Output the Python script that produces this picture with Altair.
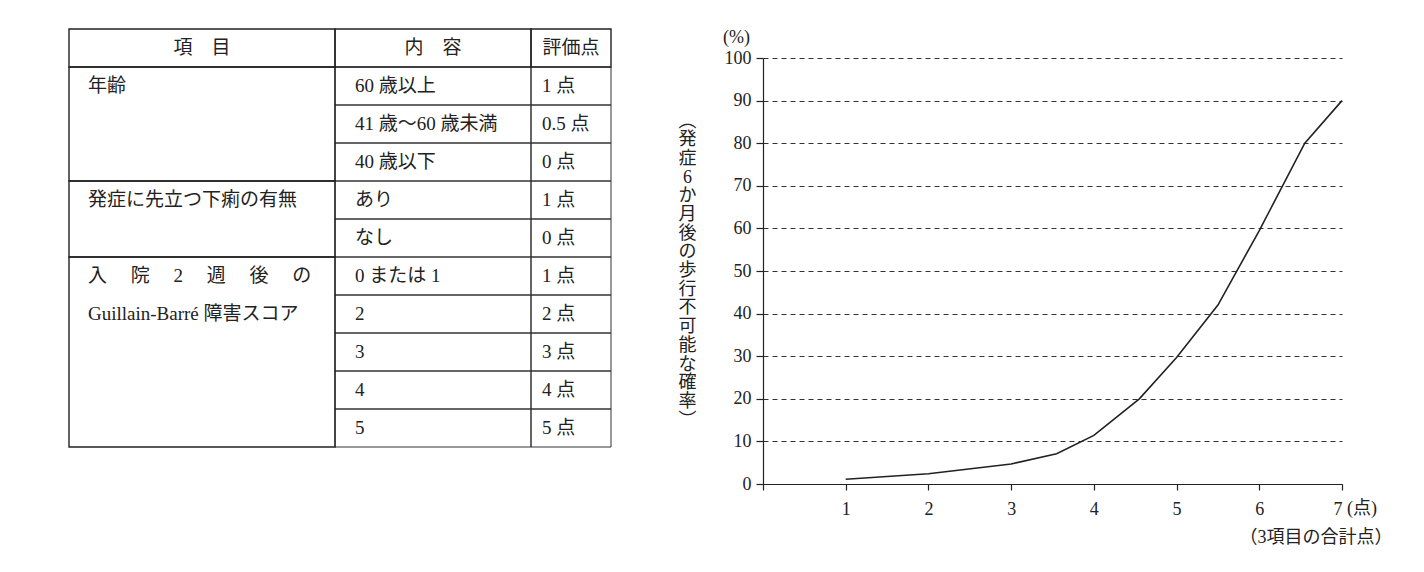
import altair as alt
import pandas as pd

# ---------------- table content ----------------
HEADERS = ["項　目", "内　容", "評価点"]
ITEM_LINES = [
    ["年齢"],
    ["発症に先立つ下痢の有無"],
    ["入　 院　 2　 週　 後　 の", "Guillain-Barré 障害スコア"],
]
CONTENTS = [
    ["60 歳以上", "41 歳～60 歳未満", "40 歳以下"],
    ["あり", "なし"],
    ["0 または 1", "2", "3", "4", "5"],
]
POINTS = [
    ["1 点", "0.5 点", "0 点"],
    ["1 点", "0 点"],
    ["1 点", "2 点", "3 点", "4 点", "5 点"],
]

# ---------------- curve data ----------------
TOTAL_SCORE = [1, 2, 3, 3.55, 4, 4.55, 5, 5.5, 6, 6.55, 7]
PROB = [1.1, 2.4, 4.7, 7.1, 11.4, 20, 29.7, 42, 59.5, 80, 90]
X_TICKS = [0, 1, 2, 3, 4, 5, 6, 7]
Y_TICKS = [0, 10, 20, 30, 40, 50, 60, 70, 80, 90, 100]
Y_TITLE = "︵発症6か月後の歩行不可能な確率︶"
X_TITLE = "（3項目の合計点）"
Y_UNIT = "(%)"
X_UNIT = "(点)"

# ---------------- layout / style ----------------
FONT = "Liberation Serif, Noto Sans CJK JP"
INK = "#222222"
COL_EDGES = [0, 266, 462, 542]
COL_PAD = [19, 20, 11]
TABLE_W, TABLE_H = 542, 418
TABLE_TOP = -29  # table starts above the chart's plot top
N_ROWS = 1 + sum(len(c) for c in CONTENTS)

# build table geometry from content
major, minor, head_txt, body_txt = [], [], [], []
for c, h in enumerate(HEADERS):
    major.append(dict(x=COL_EDGES[c], x2=COL_EDGES[c + 1], y=0, y2=1))
    head_txt.append(dict(x=(COL_EDGES[c] + COL_EDGES[c + 1]) / 2, y=0.5, t=h))
row = 1
for g, items in enumerate(CONTENTS):
    n = len(items)
    major.append(dict(x=COL_EDGES[0], x2=COL_EDGES[1], y=row, y2=row + n))
    for k, line in enumerate(ITEM_LINES[g]):
        body_txt.append(dict(x=COL_EDGES[0] + COL_PAD[0], y=row + 0.5 + k, t=line))
    for i in range(n):
        for c, src in ((1, CONTENTS), (2, POINTS)):
            minor.append(dict(x=COL_EDGES[c], x2=COL_EDGES[c + 1], y=row + i, y2=row + i + 1))
            body_txt.append(dict(x=COL_EDGES[c] + COL_PAD[c], y=row + i + 0.5, t=src[g][i]))
    row += n

tx = alt.X("x:Q", scale=alt.Scale(domain=[0, TABLE_W], nice=False, zero=False), axis=None)
ty = alt.Y(
    "y:Q",
    scale=alt.Scale(domain=[0, N_ROWS], range=[TABLE_TOP, TABLE_TOP + TABLE_H], nice=False, zero=False),
    axis=None,
)

minor_l = alt.Chart(pd.DataFrame(minor)).mark_rect(
    fill="transparent", stroke="#333333", strokeWidth=1.0
).encode(x=tx, x2="x2:Q", y=ty, y2="y2:Q")
major_l = alt.Chart(pd.DataFrame(major)).mark_rect(
    fill="transparent", stroke=INK, strokeWidth=1.4
).encode(x=tx, x2="x2:Q", y=ty, y2="y2:Q")
head_l = alt.Chart(pd.DataFrame(head_txt)).mark_text(
    align="center", baseline="middle", font=FONT, fontSize=19, color=INK
).encode(x=tx, y=ty, text="t:N")
body_l = alt.Chart(pd.DataFrame(body_txt)).mark_text(
    align="left", baseline="middle", font=FONT, fontSize=19, color=INK
).encode(x=tx, y=ty, text="t:N")

table = alt.layer(minor_l, major_l, head_l, body_l).properties(width=TABLE_W, height=TABLE_H)

# ---------------- line chart ----------------
curve = pd.DataFrame({"score": TOTAL_SCORE, "prob": PROB})

x_enc = alt.X(
    "score:Q",
    scale=alt.Scale(domain=[0, 7], nice=False, zero=True),
    axis=alt.Axis(
        values=X_TICKS,
        format="d",
        labelExpr="datum.value == 0 ? '' : datum.label",
        grid=False,
        tickSize=6,
        labelPadding=10,
        labelFontSize=18,
        title=X_TITLE,
        titleFontSize=18,
        titleFontWeight="normal",
        titleAlign="right",
        titleBaseline="top",
        titleX=629,
        titleY=44,
    ),
)
y_enc = alt.Y(
    "prob:Q",
    scale=alt.Scale(domain=[0, 100], nice=False),
    axis=alt.Axis(
        values=Y_TICKS,
        grid=True,
        gridDash=[5, 4],
        gridColor="#333333",
        gridWidth=1,
        tickSize=7,
        labelPadding=5,
        labelFontSize=18,
        title=list(Y_TITLE),
        titleAngle=0,
        titleAlign="center",
        titleBaseline="middle",
        titleFontSize=18,
        titleLineHeight=18.7,
        titleFontWeight="normal",
        titleX=-76,
        titleY=63,
    ),
)

line = alt.Chart(curve).mark_line(color=INK, strokeWidth=1.6).encode(x=x_enc, y=y_enc)

y_unit = alt.Chart(pd.DataFrame({"score": [0], "prob": [100], "t": [Y_UNIT]})).mark_text(
    align="right", baseline="middle", dx=-13, dy=-20, font=FONT, fontSize=18, color=INK
).encode(x="score:Q", y="prob:Q", text="t:N")

x_unit = alt.Chart(pd.DataFrame({"score": [7], "prob": [0], "t": [X_UNIT]})).mark_text(
    align="left", baseline="top", dx=5, dy=16, font=FONT, fontSize=18, color=INK
).encode(x="score:Q", y="prob:Q", text="t:N")

chart = alt.layer(line, y_unit, x_unit).properties(width=579, height=426)

final = (
    alt.hconcat(table, chart, spacing=66)
    .properties(padding={"left": 60, "top": 20, "right": 5, "bottom": 5})
    .configure_view(stroke=None)
    .configure_axis(
        labelFont=FONT,
        titleFont=FONT,
        labelColor=INK,
        titleColor=INK,
        domainColor=INK,
        tickColor=INK,
        domainWidth=1.2,
        tickWidth=1.2,
    )
)

final.save("out.html", embed_options={"renderer": "svg", "actions": False})
